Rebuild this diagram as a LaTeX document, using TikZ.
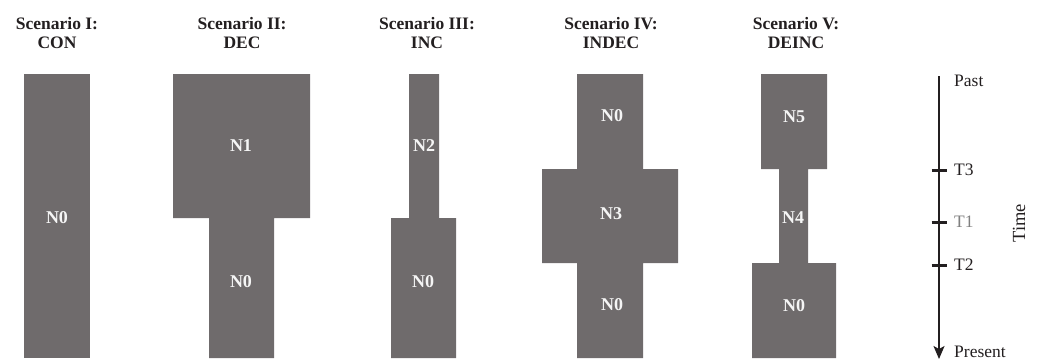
\documentclass[tikz,border=0pt]{standalone}
\usepackage{fontspec}
\setmainfont{Liberation Serif}
\usetikzlibrary{arrows.meta}
\definecolor{popgray}{RGB}{111,107,108}
\definecolor{titlecol}{RGB}{35,31,32}
\definecolor{lblcol}{RGB}{245,245,245}
\begin{document}
\begin{tikzpicture}[x=1pt,y=-1pt,
  popblock/.style={fill=popgray},
  title/.style={font=\fontsize{17.5}{19}\selectfont\bfseries, text=titlecol, align=center, inner sep=0pt},
  poplabel/.style={font=\fontsize{18}{19}\selectfont\bfseries, text=lblcol, inner sep=0pt},
  timelabel/.style={font=\fontsize{17.5}{19}\selectfont, text=titlecol, anchor=west, inner sep=0pt},
  tick/.style={line width=3pt, titlecol}
]
\useasboundingbox (0,0) rectangle (1038,360);
% titles
\node[title] (t1) at (57,33) {Scenario I:\\CON};
\node[title] (t2) at (242,33) {Scenario II:\\DEC};
\node[title] (t3) at (427,33) {Scenario III:\\INC};
\node[title] (t4) at (611,33) {Scenario IV:\\INDEC};
\node[title] (t5) at (796,33) {Scenario V:\\DEINC};
% Scenario I
\fill[popblock] (24,74) rectangle (90,358);
\node[poplabel] (s1n0) at (57,218) {N0};
% Scenario II
\fill[popblock] (173,74) -- (310,74) -- (310,218) -- (274,218) -- (274,358) -- (209,358) -- (209,218) -- (173,218) -- cycle;
\node[poplabel] (s2n1) at (241,146) {N1};
\node[poplabel] (s2n0) at (241,282) {N0};
% Scenario III
\fill[popblock] (409,74) -- (439,74) -- (439,218) -- (456,218) -- (456,358) -- (391,358) -- (391,218) -- (409,218) -- cycle;
\node[poplabel] (s3n2) at (424,146) {N2};
\node[poplabel] (s3n0) at (423,282) {N0};
% Scenario IV
\fill[popblock] (577,74) -- (643,74) -- (643,169) -- (678,169) -- (678,263) -- (643,263) -- (643,358) -- (577,358) -- (577,263) -- (542,263) -- (542,169) -- (577,169) -- cycle;
\node[poplabel] (s4n0a) at (612,116) {N0};
\node[poplabel] (s4n3) at (611,214) {N3};
\node[poplabel] (s4n0b) at (612,305) {N0};
% Scenario V
\fill[popblock] (761,74) -- (827,74) -- (827,169) -- (808,169) -- (808,263) -- (836,263) -- (836,358) -- (752,358) -- (752,263) -- (779,263) -- (779,169) -- (761,169) -- cycle;
\node[poplabel] (s5n5) at (794,117) {N5};
\node[poplabel] (s5n4) at (793,218) {N4};
\node[poplabel] (s5n0) at (794,306) {N0};
% Timeline
\coordinate (tstart) at (939,76);
\coordinate (tend) at (939,359);
\draw[line width=1.6pt, titlecol, -{Stealth[length=13pt,width=11pt,inset=3pt]}] (tstart) -- (tend);
\draw[tick] (931.5,170) -- (946.5,170);
\draw[tick] (931.5,222) -- (946.5,222);
\draw[tick] (931.5,265) -- (946.5,265);
\node[timelabel] (past) at (954,81) {Past};
\node[timelabel] (tt3) at (954,170) {T3};
\node[timelabel, text=gray] (tt1) at (954,222) {T1};
\node[timelabel] (tt2) at (954,265) {T2};
\node[timelabel] (present) at (954,352) {Present};
\node[font=\fontsize{18.5}{20}\selectfont, text=titlecol, rotate=90, inner sep=0pt] (time) at (1019,223) {Time};
\end{tikzpicture}
\end{document}
